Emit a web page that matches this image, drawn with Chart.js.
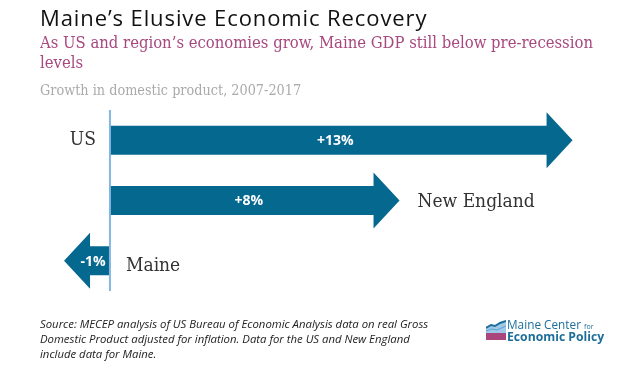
<!DOCTYPE html>
<html>
<head>
<meta charset="utf-8">
<script src="https://cdn.jsdelivr.net/npm/chart.js@4"></script>
<style>
body { margin: 0; background: #fff; width: 626px; height: 370px; overflow: hidden; position: relative; }
.txt { position: absolute; left: 40px; white-space: nowrap; }
#title { top: 2px; font: 22px 'Open Sans', sans-serif; letter-spacing: 0.9px; color: #111; }
#sub { top: 33px; font: 16.5px 'DejaVu Serif Condensed', 'DejaVu Serif', serif; font-stretch: condensed; color: #a7487f; line-height: 20px; }
#growth { top: 82px; font: 14.3px 'DejaVu Serif Condensed', 'DejaVu Serif', serif; font-stretch: condensed; color: #aaa; }
#source { top: 316px; font: italic 11.35px 'Open Sans', sans-serif; color: #222; line-height: 15px; }
#logo { position: absolute; left: 486px; top: 316px; }
#logo svg { position: absolute; left: 0; top: 4px; }
#logo .l1 { position: absolute; left: 21px; top: 0; font: 11.8px 'Open Sans', sans-serif; color: #1d6e9a; white-space: nowrap; }
#logo .l1 small { font-size: 7px; }
#logo .l2 { position: absolute; left: 21px; top: 12px; font: bold 12.2px 'Open Sans', sans-serif; color: #1d6e9a; white-space: nowrap; }
#wrap { position: absolute; left: 0; top: 0; width: 626px; height: 370px; }
</style>
</head>
<body>
<div id="wrap"><canvas id="chart" width="626" height="370"></canvas></div>
<div class="txt" id="title">Maine’s Elusive Economic Recovery</div>
<div class="txt" id="sub">As US and region’s economies grow, Maine GDP still below pre-recession<br>levels</div>
<div class="txt" id="growth">Growth in domestic product, 2007-2017</div>
<div class="txt" id="source">Source: MECEP analysis of US Bureau of Economic Analysis data on real Gross<br>Domestic Product adjusted for inflation. Data for the US and New England<br>include data for Maine.</div>
<div id="logo">
  <svg width="20" height="20" viewBox="0 0 20 20">
    <rect x="0" y="13" width="20" height="7" fill="#a9467c"/>
    <polygon points="0,8 5,5 9,6 14,3 20,1 20,13 0,13" fill="#9fc9e8"/>
    <polyline points="0,8 5,5 9,6 14,3 20,1" fill="none" stroke="#1d6e9a" stroke-width="2"/>
    <polyline points="0,11 6,9 11,10 20,6" fill="none" stroke="#5fa0cf" stroke-width="1"/>
  </svg>
  <div class="l1">Maine Center <small>for</small></div>
  <div class="l2">Economic Policy</div>
</div>
<script>
// Données du graphique
var categories = ['US', 'New England', 'Maine'];
var growth = [13.1, 8.2, -1.3];

var arrowColor = '#05688f';
var headLen = 26;
var headHalf = 28;

function pctLabel(v) {
    return (v > 0 ? '+' : '') + Math.round(v) + '%';
}

// Dessine les flèches, les étiquettes et la ligne zéro
var arrowPlugin = {
    id: 'arrows',
    afterDatasetsDraw: function (chart) {
        var ctx = chart.ctx;
        var meta = chart.getDatasetMeta(0);
        var zero = chart.scales.x.getPixelForValue(0);
        ctx.save();
        meta.data.forEach(function (bar, i) {
            var v = growth[i];
            var dir = v < 0 ? -1 : 1;
            var tip = bar.x, base = bar.base, y = bar.y, h = bar.height / 2;
            var neck = tip - dir * headLen;
            ctx.fillStyle = arrowColor;
            ctx.beginPath();
            ctx.moveTo(base, y - h);
            ctx.lineTo(neck, y - h);
            ctx.lineTo(neck, y - headHalf);
            ctx.lineTo(tip, y);
            ctx.lineTo(neck, y + headHalf);
            ctx.lineTo(neck, y + h);
            ctx.lineTo(base, y + h);
            ctx.closePath();
            ctx.fill();

            // valeur
            ctx.fillStyle = '#fff';
            ctx.font = 'bold 14px "Open Sans", sans-serif';
            ctx.textAlign = 'center';
            ctx.textBaseline = 'middle';
            ctx.fillText(pctLabel(v), (base + tip) / 2 - dir * 6, y + 1);

            // catégorie
            ctx.fillStyle = '#333';
            ctx.font = '19px "DejaVu Serif Condensed", "DejaVu Serif", serif';
            var w = ctx.measureText(categories[i]).width;
            if (v < 0) {
                ctx.textAlign = 'left';
                ctx.fillText(categories[i], zero + 16, y + 5);
            } else if (tip + 18 + w < chart.width - 10) {
                ctx.textAlign = 'left';
                ctx.fillText(categories[i], tip + 18, y + 2);
            } else {
                ctx.textAlign = 'right';
                ctx.fillText(categories[i], zero - 14, y);
            }
        });
        ctx.strokeStyle = '#86b6e0';
        ctx.lineWidth = 2;
        ctx.beginPath();
        ctx.moveTo(zero, chart.chartArea.top);
        ctx.lineTo(zero, chart.chartArea.bottom);
        ctx.stroke();
        ctx.restore();
    }
};

var ctx = document.getElementById('chart').getContext('2d');
var chart = new Chart(ctx, {
    type: 'bar',
    data: {
        labels: categories,
        datasets: [{
            data: growth,
            backgroundColor: 'rgba(0,0,0,0)',
            barThickness: 29
        }]
    },
    options: {
        indexAxis: 'y',
        responsive: false,
        animation: false,
        layout: { padding: { top: 110, bottom: 79, left: 4, right: 4 } },
        plugins: { legend: { display: false }, tooltip: { enabled: false } },
        scales: {
            x: { display: false, min: -3, max: 14.5 },
            y: { display: false }
        }
    },
    plugins: [arrowPlugin]
});
</script>
</body>
</html>
